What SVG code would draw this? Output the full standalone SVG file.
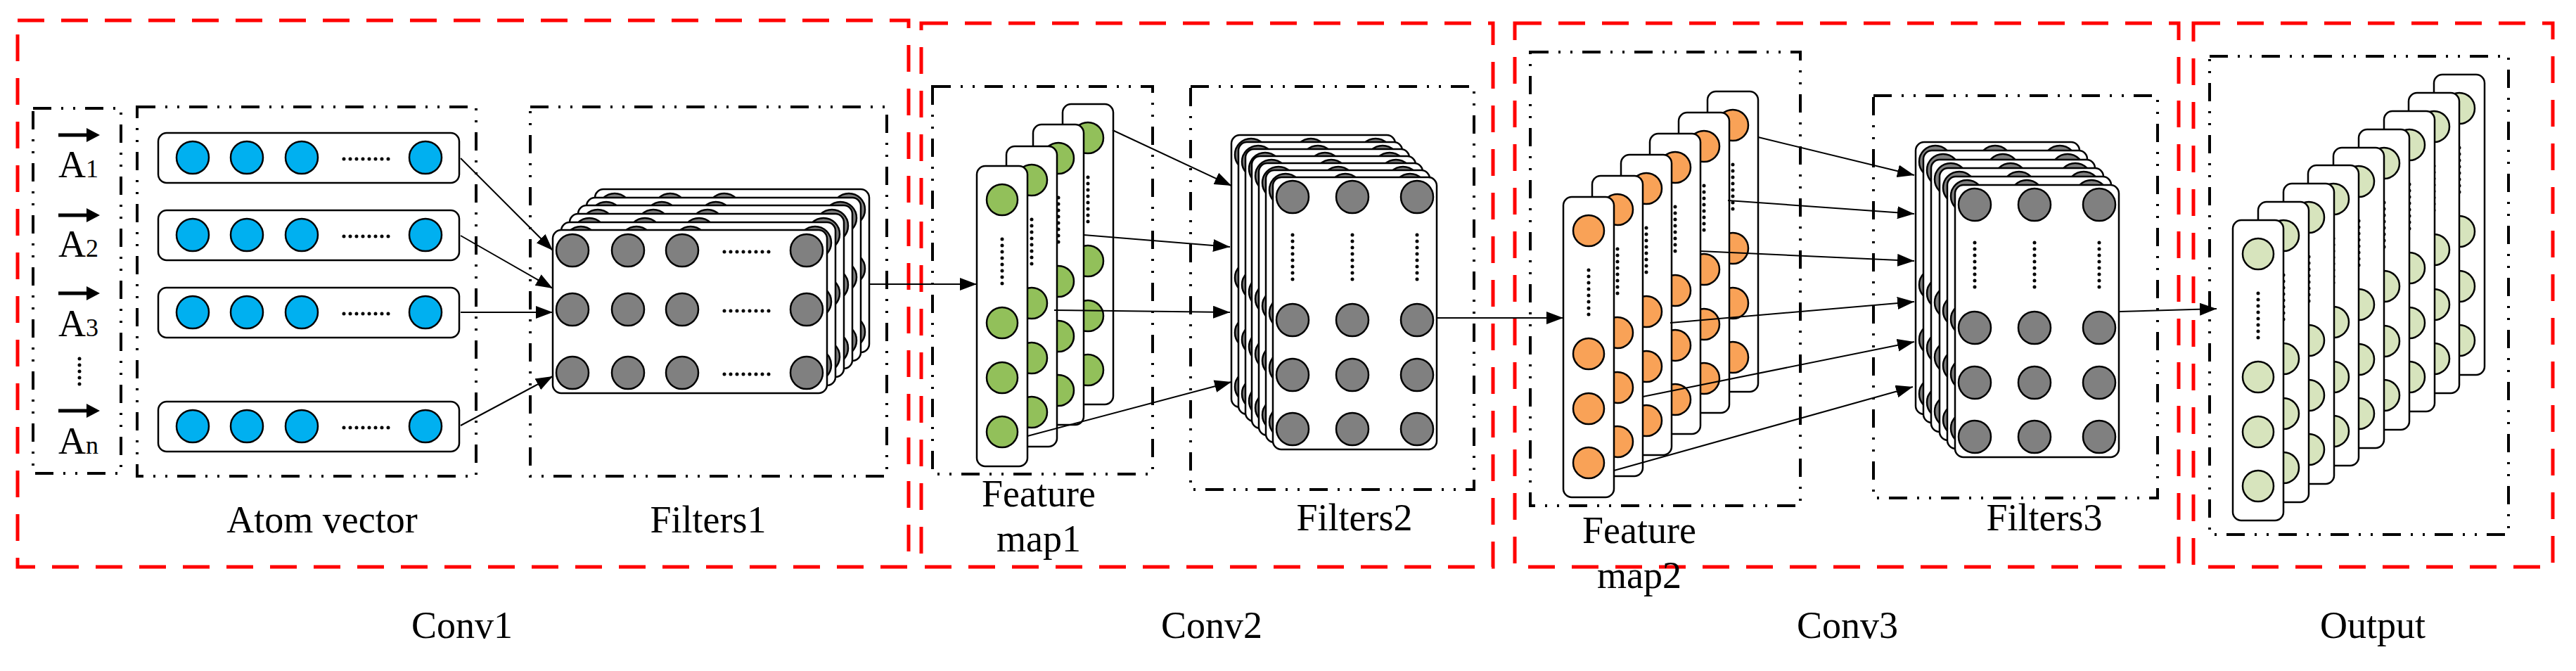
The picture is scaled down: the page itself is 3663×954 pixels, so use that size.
<svg xmlns="http://www.w3.org/2000/svg" xmlns:xlink="http://www.w3.org/1999/xlink" width="3663" height="954" viewBox="0 0 3663 954">
<style>
.red{fill:none;stroke:#FF0000;stroke-width:5;stroke-dasharray:38 24}
.dd{fill:none;stroke:#000;stroke-width:4;stroke-dasharray:26 14 3 14 3 14}
.card{fill:#fff;stroke:#000;stroke-width:2.5}
.c{stroke:#000;stroke-width:2.5}
.g{fill:#808080}
.dots{stroke:#000;stroke-width:5;stroke-linecap:round;stroke-dasharray:0 9;fill:none}
.t{font-family:"Liberation Serif",serif;font-size:54px;fill:#000}
.con{stroke:#000;stroke-width:2;fill:none;marker-end:url(#ah)}
</style>
<defs>
<marker id="ah" viewBox="0 0 10 10" refX="10" refY="5" markerUnits="userSpaceOnUse" markerWidth="24" markerHeight="18" orient="auto" preserveAspectRatio="none"><path d="M0,0L10,5L0,10z" fill="#000"/></marker>
<g id="row"><rect class="card" x="0" y="0" width="428" height="71" rx="12"/><g class="c" fill="#00B0F0"><circle cx="49" cy="35" r="23"/><circle cx="126" cy="35" r="23"/><circle cx="204" cy="35" r="23"/><circle cx="380" cy="35" r="23"/></g><line class="dots" x1="264" y1="37" x2="330" y2="37"/></g>
<g id="col"><rect class="card" x="0" y="0" width="72" height="427" rx="12"/><g class="c"><circle cx="36" cy="48" r="22"/><circle cx="36" cy="223" r="22"/><circle cx="36" cy="301" r="22"/><circle cx="36" cy="378" r="22"/></g><line class="dots" x1="36" y1="104" x2="36" y2="170"/></g>
<g id="f1"><rect class="card" x="0" y="0" width="390" height="232" rx="12"/><g class="c g"><circle cx="28" cy="29" r="23"/><circle cx="107" cy="29" r="23"/><circle cx="184" cy="29" r="23"/><circle cx="361" cy="29" r="23"/><circle cx="28" cy="113" r="23"/><circle cx="107" cy="113" r="23"/><circle cx="184" cy="113" r="23"/><circle cx="361" cy="113" r="23"/><circle cx="28" cy="203" r="23"/><circle cx="107" cy="203" r="23"/><circle cx="184" cy="203" r="23"/><circle cx="361" cy="203" r="23"/></g><g class="dots"><line x1="244" y1="31" x2="308" y2="31"/><line x1="244" y1="115" x2="308" y2="115"/><line x1="244" y1="205" x2="308" y2="205"/></g></g>
<g id="f2"><rect class="card" x="0" y="0" width="233" height="387" rx="12"/><g class="c g"><circle cx="28" cy="28" r="23"/><circle cx="113" cy="28" r="23"/><circle cx="205" cy="28" r="23"/><circle cx="28" cy="203" r="23"/><circle cx="113" cy="203" r="23"/><circle cx="205" cy="203" r="23"/><circle cx="28" cy="281" r="23"/><circle cx="113" cy="281" r="23"/><circle cx="205" cy="281" r="23"/><circle cx="28" cy="358" r="23"/><circle cx="113" cy="358" r="23"/><circle cx="205" cy="358" r="23"/></g><g class="dots"><line x1="28" y1="82" x2="28" y2="150"/><line x1="113" y1="82" x2="113" y2="150"/><line x1="205" y1="82" x2="205" y2="150"/></g></g>
</defs>

<g id="regions">
<rect class="red" x="25" y="29" width="1267" height="777"/>
<rect class="red" x="1310" y="33" width="813" height="773"/>
<rect class="red" x="2154" y="33" width="944" height="773"/>
<rect class="red" x="3119" y="33" width="511" height="773"/>
<text class="t" x="657" y="907" text-anchor="middle">Conv1</text>
<text class="t" x="1723" y="907" text-anchor="middle">Conv2</text>
<text class="t" x="2627" y="907" text-anchor="middle">Conv3</text>
<text class="t" x="3374" y="907" text-anchor="middle">Output</text>
</g>

<g id="inputs">
<rect class="dd" x="47" y="154" width="125" height="519"/>
<g stroke="#000" stroke-width="5"><line x1="83" y1="192" x2="126" y2="192"/><line x1="83" y1="306" x2="126" y2="306"/><line x1="83" y1="417" x2="126" y2="417"/><line x1="83" y1="584" x2="126" y2="584"/></g>
<g fill="#000"><path d="M123,182L142,192L123,202z"/><path d="M123,296L142,306L123,316z"/><path d="M123,407L142,417L123,427z"/><path d="M123,574L142,584L123,594z"/></g>
<text class="t" x="83" y="252">A<tspan font-size="36">1</tspan></text>
<text class="t" x="83" y="365">A<tspan font-size="36">2</tspan></text>
<text class="t" x="83" y="478">A<tspan font-size="36">3</tspan></text>
<line class="dots" x1="113" y1="510" x2="113" y2="548" stroke-dasharray="0 18" stroke-width="8"/>
<text class="t" x="83" y="645">A<tspan font-size="36">n</tspan></text>
</g>

<g id="atom-vector">
<rect class="dd" x="195" y="152" width="482" height="525"/>
<use xlink:href="#row" x="225" y="189"/>
<use xlink:href="#row" x="225" y="299"/>
<use xlink:href="#row" x="225" y="409"/>
<use xlink:href="#row" x="225" y="571"/>
<text class="t" x="458" y="757" text-anchor="middle">Atom vector</text>
</g>

<g id="filters1">
<rect class="dd" x="754" y="152" width="507" height="525"/>
<use xlink:href="#f1" x="846" y="269"/>
<use xlink:href="#f1" x="834" y="281"/>
<use xlink:href="#f1" x="822" y="292"/>
<use xlink:href="#f1" x="810" y="304"/>
<use xlink:href="#f1" x="798" y="316"/>
<use xlink:href="#f1" x="786" y="327"/>
<text class="t" x="1007" y="757" text-anchor="middle">Filters1</text>
</g>

<g id="feature-map1">
<rect class="dd" x="1326" y="123" width="313" height="551"/>
<use xlink:href="#col" x="1511" y="148" fill="#92C05A"/>
<use xlink:href="#col" x="1469" y="177" fill="#92C05A"/>
<use xlink:href="#col" x="1431" y="208" fill="#92C05A"/>
<use xlink:href="#col" x="1389" y="236" fill="#92C05A"/>
<text class="t" x="1477" y="720" text-anchor="middle">Feature</text>
<text class="t" x="1477" y="784" text-anchor="middle">map1</text>
</g>

<g id="filters2">
<rect class="dd" x="1693" y="123" width="403" height="573"/>
<use xlink:href="#f2" x="1751" y="192"/>
<use xlink:href="#f2" x="1761" y="202"/>
<use xlink:href="#f2" x="1771" y="212"/>
<use xlink:href="#f2" x="1780" y="222"/>
<use xlink:href="#f2" x="1790" y="232"/>
<use xlink:href="#f2" x="1800" y="242"/>
<use xlink:href="#f2" x="1810" y="252"/>
<text class="t" x="1926" y="754" text-anchor="middle">Filters2</text>
</g>

<g id="feature-map2">
<rect class="dd" x="2176" y="74" width="384" height="645"/>
<use xlink:href="#col" x="2428" y="130" fill="#F9A257"/>
<use xlink:href="#col" x="2387" y="160" fill="#F9A257"/>
<use xlink:href="#col" x="2346" y="190" fill="#F9A257"/>
<use xlink:href="#col" x="2305" y="220" fill="#F9A257"/>
<use xlink:href="#col" x="2264" y="250" fill="#F9A257"/>
<use xlink:href="#col" x="2223" y="280" fill="#F9A257"/>
<text class="t" x="2331" y="772" text-anchor="middle">Feature</text>
<text class="t" x="2331" y="836" text-anchor="middle">map2</text>
</g>

<g id="filters3">
<rect class="dd" x="2664" y="136" width="404" height="572"/>
<use xlink:href="#f2" x="2724" y="202"/>
<use xlink:href="#f2" x="2735" y="214"/>
<use xlink:href="#f2" x="2746" y="227"/>
<use xlink:href="#f2" x="2758" y="239"/>
<use xlink:href="#f2" x="2769" y="251"/>
<use xlink:href="#f2" x="2780" y="263"/>
<text class="t" x="2907" y="754" text-anchor="middle">Filters3</text>
</g>

<g id="output">
<rect class="dd" x="3142" y="80" width="425" height="680"/>
<use xlink:href="#col" x="3461" y="106" fill="#D7E4BD"/>
<use xlink:href="#col" x="3425" y="132" fill="#D7E4BD"/>
<use xlink:href="#col" x="3390" y="158" fill="#D7E4BD"/>
<use xlink:href="#col" x="3354" y="184" fill="#D7E4BD"/>
<use xlink:href="#col" x="3318" y="210" fill="#D7E4BD"/>
<use xlink:href="#col" x="3282" y="235" fill="#D7E4BD"/>
<use xlink:href="#col" x="3247" y="261" fill="#D7E4BD"/>
<use xlink:href="#col" x="3211" y="287" fill="#D7E4BD"/>
<use xlink:href="#col" x="3175" y="313" fill="#D7E4BD"/>
</g>

<g id="connectors">
<line class="con" x1="655" y1="225" x2="786" y2="356"/>
<line class="con" x1="655" y1="335" x2="786" y2="410"/>
<line class="con" x1="655" y1="444" x2="786" y2="444"/>
<line class="con" x1="655" y1="605" x2="786" y2="535"/>
<line class="con" x1="1235" y1="404" x2="1389" y2="404"/>
<line class="con" x1="1582" y1="185" x2="1751" y2="264"/>
<line class="con" x1="1541" y1="334" x2="1749" y2="351"/>
<line class="con" x1="1499" y1="441" x2="1749" y2="444"/>
<line class="con" x1="1461" y1="620" x2="1751" y2="543"/>
<line class="con" x1="2042" y1="452" x2="2223" y2="452"/>
<line class="con" x1="2500" y1="195" x2="2722" y2="249"/>
<line class="con" x1="2457" y1="285" x2="2722" y2="304"/>
<line class="con" x1="2417" y1="357" x2="2722" y2="371"/>
<line class="con" x1="2375" y1="459" x2="2722" y2="429"/>
<line class="con" x1="2336" y1="564" x2="2722" y2="486"/>
<line class="con" x1="2295" y1="669" x2="2720" y2="550"/>
<line class="con" x1="3014" y1="443" x2="3152" y2="439"/>
</g>
</svg>
